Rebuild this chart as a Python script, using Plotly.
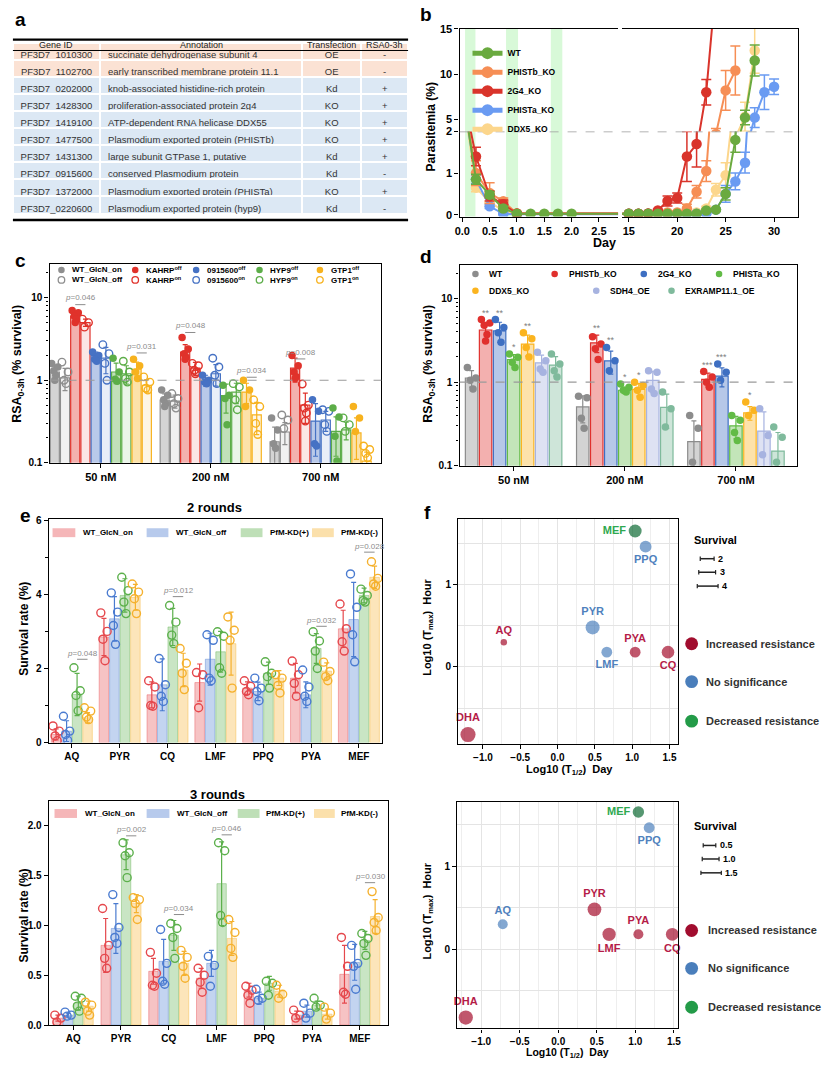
import numpy as np
import plotly.graph_objects as go

W, H = 831, 1066
FONT = "Liberation Sans, Arial, Helvetica, sans-serif"

# ======================= DATA =======================
# (a) table
a_columns = ["Gene ID", "Annotation", "Transfection", "RSA0-3h"]
a_gene_ids = ["PF3D7_1010300", "PF3D7_1102700", "PF3D7_0202000", "PF3D7_1428300", "PF3D7_1419100",
              "PF3D7_1477500", "PF3D7_1431300", "PF3D7_0915600", "PF3D7_1372000", "PF3D7_0220600"]
a_annotation = ["succinate dehydrogenase subunit 4", "early transcribed membrane protein 11.1",
                "knob-associated histidine-rich protein", "proliferation-associated protein 2g4",
                "ATP-dependent RNA helicase DDX55", "Plasmodium exported protein (PHISTb)",
                "large subunit GTPase 1, putative", "conserved Plasmodium protein",
                "Plasmodium exported protein (PHISTa)", "Plasmodium exported protein (hyp9)"]
a_transfection = ["OE", "OE", "Kd", "KO", "KO", "KO", "Kd", "Kd", "KO", "Kd"]
a_rsa = ["-", "-", "+", "+", "+", "+", "+", "-", "+", "-"]

# (b) parasitemia time course
b_series = ["WT", "PHISTb_KO", "2G4_KO", "PHISTa_KO", "DDX5_KO"]
b_colors = ["#6aaa3f", "#f68e55", "#d9342b", "#6a9bf2", "#fcd68c"]
b_days_early = [0, 0.25, 0.5, 0.75, 1.0, 1.25, 1.5, 1.75, 2.0]
b_days_late = [15, 16, 17, 18, 19, 20, 21, 22, 23, 24, 25, 26, 27, 28, 29, 30]
b_early = [
    [3.0, 0.85, 0.48, 0.15, 0.02, 0.02, 0.02, 0.02, 0.02],
    [3.0, 1.0, 0.52, 0.32, 0.03, None, None, None, None],
    [3.0, 1.4, 0.45, 0.25, 0.03, None, None, None, None],
    [3.0, 0.85, 0.2, 0.02, 0.01, None, None, None, None],
    [3.0, 0.65, 0.3, 0.1, 0.02, None, None, None, None],
]
b_early_err = [
    [0, 0.12, 0.08, 0.05, 0, 0, 0, 0, 0],
    [0, 0.3, 0.25, 0.08, 0, None, None, None, None],
    [0, 0.22, 0.12, 0.1, 0, None, None, None, None],
    [0, 0.1, 0.05, 0.02, 0, None, None, None, None],
    [0, 0.1, 0.1, 0.05, 0, None, None, None, None],
]
b_late = [
    [0.02, 0.02, 0.02, 0.02, 0.02, 0.02, 0.02, 0.02, 0.1, 0.12, 0.5, 1.8, 5.2, 11.5, None, None],
    [0.02, 0.02, 0.02, 0.03, 0.05, 0.05, 0.15, 0.55, 1.05, 3.4, 8.2, 10.4, None, None, None, None],
    [0.02, 0.02, 0.03, 0.1, 0.33, 0.4, 1.4, 1.7, 8.0, 20.0, None, None, None, None, None, None],
    [0.02, 0.02, 0.02, 0.02, 0.02, 0.02, 0.02, 0.02, 0.03, 0.12, 0.5, 0.8, 1.25, 5.2, 8.0, 8.6],
    [0.02, 0.02, 0.02, 0.02, 0.02, 0.02, 0.02, 0.05, 0.15, 0.6, 0.95, 3.0, 5.3, 12.6, None, None],
]
b_late_err = [
    [0, 0, 0, 0, 0, 0, 0, 0, 0.03, 0.03, 0.15, 0.3, 0.8, 1.7, None, None],
    [0, 0, 0, 0.02, 0.03, 0.03, 0.1, 0.15, 0.25, 0.6, 2.2, 2.7, None, None, None, None],
    [0, 0, 0, 0.03, 0.12, 0.12, 0.6, 0.55, 1.4, 0, None, None, None, None, None, None],
    [0, 0, 0, 0, 0, 0, 0, 0, 0.02, 0.03, 0.2, 0.2, 0.25, 1.1, 1.9, 0.85],
    [0, 0, 0, 0, 0, 0, 0, 0.02, 0.05, 0.15, 0.3, 0.5, 1.6, 2.5, None, None],
]
b_drug_bands = [[0.05, 0.24], [0.8, 1.02], [1.62, 1.83]]

# (c) RSA of knock-down lines
c_groups = ["50 nM", "200 nM", "700 nM"]
c_series = ["WT_GlcN_on", "WT_GlcN_off", "KAHRP<sup>off</sup>", "KAHRP<sup>on</sup>",
            "0915600<sup>off</sup>", "0915600<sup>on</sup>", "HYP9<sup>off</sup>", "HYP9<sup>on</sup>",
            "GTP1<sup>off</sup>", "GTP1<sup>on</sup>"]
c_filled = [True, False, True, False, True, False, True, False, True, False]
c_colors = ["#8e8e8e", "#8e8e8e", "#e0322b", "#e0322b", "#4672c4", "#4672c4",
            "#5cad48", "#5cad48", "#f7b21e", "#f7b21e"]
c_means = [[1.26, 0.575, 0.18], [1.07, 0.56, 0.236], [6.0, 2.2, 1.4], [5.0, 1.4, 0.5],
           [2.0, 1.0, 0.32], [1.85, 1.2, 0.33], [1.26, 0.65, 0.24], [1.2, 0.72, 0.25],
           [1.36, 0.72, 0.23], [0.87, 0.38, 0.105]]
c_sd = [[0.22, 0.11, 0.09], [0.32, 0.1, 0.07], [0.8, 0.5, 0.45], [0.5, 0.25, 0.2],
        [0.2, 0.15, 0.2], [0.65, 0.35, 0.09], [0.35, 0.25, 0.12], [0.3, 0.2, 0.06],
        [0.3, 0.2, 0.12], [0.15, 0.16, 0.03]]
c_points = [
    [[1.6, 1.45, 1.3, 1.15, 1.0], [0.76, 0.66, 0.58, 0.52, 0.48], [0.35, 0.25, 0.17, 0.15]],
    [[1.66, 1.26, 1.0, 0.91], [0.69, 0.6, 0.52, 0.46], [0.38, 0.33, 0.26]],
    [[7.0, 6.6, 6.0, 5.5, 5.0], [3.3, 2.4, 2.1, 1.9, 1.8], [2.0, 1.5, 1.26, 1.1, 1.05]],
    [[5.5, 5.0, 4.4], [1.6, 1.5, 1.32, 1.26, 1.2], [0.9, 0.5, 0.46, 0.4, 0.32]],
    [[2.2, 2.0, 1.8, 1.7], [1.15, 1.0, 0.95, 0.91], [0.58, 0.42, 0.17, 0.16]],
    [[2.7, 2.1, 1.6, 1.0], [1.85, 1.45, 1.15, 0.91], [0.44, 0.42, 0.29, 0.24]],
    [[1.85, 1.26, 1.03, 0.97], [0.87, 0.66, 0.6, 0.29], [0.46, 0.36, 0.21, 0.105]],
    [[1.7, 1.26, 1.05, 0.95], [0.91, 0.83, 0.58, 0.44], [0.35, 0.29, 0.24]],
    [[1.8, 1.5, 1.26, 1.05], [1.0, 0.76, 0.48], [0.48, 0.35, 0.24]],
    [[1.1, 0.95, 0.8, 0.76], [0.58, 0.48, 0.3, 0.22], [0.16, 0.145, 0.13, 0.115]],
]
c_p_group = [0, 0, 1, 1, 2]
c_p_pair = [2, 8, 2, 8, 2]
c_p_text = ["0.046", "0.031", "0.048", "0.034", "0.008"]
c_p_y = [10.0, 2.6, 4.6, 1.32, 2.2]

# (d) RSA of KO / OE lines
d_groups = ["50 nM", "200 nM", "700 nM"]
d_series = ["WT", "PHISTb_KO", "2G4_KO", "PHISTa_KO", "DDX5_KO", "SDH4_OE", "EXRAMP11.1_OE"]
d_colors = ["#8c8c8c", "#e0302d", "#3e6fc2", "#62bb46", "#fbb41f", "#a7b3e0", "#7fba9c"]
d_means = [[1.12, 0.505, 0.194], [4.2, 2.95, 1.08], [4.1, 1.8, 1.18], [1.86, 0.8, 0.3],
           [2.85, 0.82, 0.43], [1.7, 1.05, 0.26], [1.6, 0.5, 0.15]]
d_sd = [[0.25, 0.18, 0.15], [0.9, 0.7, 0.2], [1.1, 0.55, 0.3], [0.28, 0.07, 0.09],
        [0.8, 0.14, 0.08], [0.4, 0.3, 0.18], [0.42, 0.22, 0.1]]
d_points = [
    [[1.5, 1.12, 1.05, 0.83], [0.68, 0.65, 0.37, 0.28], [0.4, 0.28, 0.11]],
    [[5.6, 5.1, 4.8, 3.7, 3.1], [3.5, 2.85, 2.5, 1.86], [1.34, 1.15, 1.0, 0.87]],
    [[5.6, 4.5, 3.9, 3.0], [2.6, 1.8, 1.37], [1.65, 1.31, 1.05]],
    [[2.17, 1.98, 1.73, 1.5], [0.95, 0.87, 0.8, 0.76], [0.4, 0.35, 0.25, 0.2]],
    [[3.9, 3.3, 2.6, 2.0], [1.0, 0.91, 0.8, 0.66], [0.58, 0.46, 0.4]],
    [[2.27, 1.8, 1.44, 1.31], [1.37, 1.31, 0.83, 0.73], [0.48, 0.23, 0.135]],
    [[2.17, 1.65, 1.37, 1.15], [0.76, 0.48, 0.29], [0.29, 0.22, 0.11]],
]
d_stars = [["", "", ""], ["**", "**", "***"], ["**", "**", "***"], ["*", "*", ""],
           ["**", "*", "*"], ["", "", ""], ["", "", ""]]

# (e) survival rates after 2 / 3 rounds
e_drugs = ["AQ", "PYR", "CQ", "LMF", "PPQ", "PYA", "MEF"]
e_series = ["WT_GlcN_on", "WT_GlcN_off", "PfM-KD(+)", "PfM-KD(-)"]
e_colors = ["#e5484d", "#4a7bd0", "#5cb04c", "#f5b12e"]
e2_means = [[0.22, 2.85, 1.29, 1.62, 1.47, 1.74, 3.07],
            [0.31, 3.34, 1.56, 2.25, 1.38, 1.29, 3.32],
            [1.3, 3.97, 3.12, 2.45, 1.87, 2.54, 3.97],
            [0.67, 3.92, 1.96, 2.67, 1.74, 1.93, 4.46]]
e2_sd = [[0.15, 0.5, 0.35, 0.5, 0.17, 0.4, 0.5],
         [0.28, 0.6, 0.7, 0.7, 0.25, 0.35, 1.0],
         [0.57, 0.45, 0.5, 0.55, 0.3, 0.4, 0.2],
         [0.14, 0.35, 0.45, 0.85, 0.2, 0.22, 0.3]]
e2_points = [
    [[0.45, 0.31, 0.18, 0.05], [3.5, 3.0, 2.79, 2.21], [1.67, 1.5, 1.0, 0.98], [1.89, 1.83, 0.94],
     [1.67, 1.52, 1.38, 1.29], [2.2, 1.83, 1.6, 1.25], [3.74, 3.07, 2.72, 2.47]],
    [[0.71, 0.31, 0.22, 0.06], [4.04, 3.52, 3.16, 2.65], [2.27, 1.56, 1.25, 1.11], [2.91, 2.76, 1.74, 1.67],
     [1.74, 1.47, 1.38, 1.13], [1.96, 1.5, 1.25, 1.11], [4.55, 3.65, 2.91, 2.18]],
    [[2.02, 1.4, 1.27, 0.86], [4.46, 4.1, 3.79, 3.48], [3.7, 3.25, 2.9, 2.67], [2.99, 2.87, 2.02, 1.87],
     [2.18, 1.87, 1.78, 1.47], [2.99, 2.74, 2.47, 2.0], [4.14, 3.97, 3.83, 3.79]],
    [[0.94, 0.85, 0.69, 0.62], [4.28, 4.06, 3.88, 3.48], [2.54, 2.14, 1.87, 1.43], [3.39, 3.03, 2.76, 1.47],
     [1.83, 1.74, 1.54, 1.34], [2.17, 1.92, 1.78, 1.67], [4.88, 4.43, 4.28, 4.22]],
]
e2_p_drug = [0, 2, 5, 6]
e2_p_text = ["0.048", "0.012", "0.032", "0.028"]
e2_p_y = [2.41, 4.1, 3.3, 5.3]

e3_means = [[0.07, 0.8, 0.54, 0.47, 0.35, 0.1, 0.51],
            [0.1, 0.97, 0.64, 0.62, 0.27, 0.14, 0.63],
            [0.22, 1.71, 0.9, 1.42, 0.42, 0.2, 0.85],
            [0.19, 1.22, 0.62, 0.87, 0.34, 0.11, 1.09]]
e3_sd = [[0.03, 0.27, 0.13, 0.1, 0.07, 0.04, 0.29],
         [0.02, 0.25, 0.22, 0.13, 0.06, 0.06, 0.18],
         [0.07, 0.15, 0.15, 0.42, 0.07, 0.04, 0.09],
         [0.05, 0.09, 0.12, 0.17, 0.06, 0.05, 0.17]]
e3_points = [
    [[0.1, 0.07, 0.03], [1.17, 0.8, 0.67, 0.57], [0.73, 0.52, 0.4, 0.39], [0.57, 0.5, 0.43, 0.33],
     [0.39, 0.35, 0.3, 0.22], [0.15, 0.1, 0.07], [0.88, 0.59, 0.33, 0.31]],
    [[0.13, 0.1, 0.09], [1.31, 0.98, 0.88, 0.82], [0.96, 0.62, 0.44, 0.41], [0.69, 0.6, 0.39],
     [0.36, 0.27, 0.25], [0.22, 0.12, 0.07], [0.8, 0.62, 0.59, 0.36]],
    [[0.29, 0.27, 0.19, 0.14], [1.83, 1.73, 1.7, 1.48], [1.02, 0.97, 0.88, 0.67], [1.83, 1.75, 1.1, 1.03],
     [0.44, 0.42, 0.3], [0.27, 0.2, 0.18], [0.92, 0.87, 0.82, 0.7]],
    [[0.23, 0.2, 0.14, 0.1], [1.28, 1.26, 1.22, 1.06], [0.75, 0.68, 0.59, 0.47], [1.06, 0.93, 0.77, 0.68],
     [0.4, 0.31, 0.27], [0.18, 0.12, 0.06], [1.34, 1.08, 1.03, 0.95]],
]
e3_p_drug = [1, 2, 3, 6]
e3_p_text = ["0.002", "0.034", "0.046", "0.030"]
e3_p_y = [1.96, 1.17, 1.97, 1.49]

# (f) pharmacokinetic map
f_drugs = ["MEF", "PPQ", "PYR", "LMF", "AQ", "PYA", "CQ", "DHA"]
f_log_thalf = [1.04, 1.18, 0.47, 0.66, -0.72, 1.04, 1.48, -1.2]
f_log_tmax = [1.65, 1.46, 0.48, 0.18, 0.30, 0.18, 0.18, -0.82]
f_class_2r = ["dec", "ns", "ns", "ns", "inc", "inc", "inc", "inc"]
f_class_3r = ["dec", "ns", "inc", "inc", "ns", "inc", "inc", "inc"]
f_surv_2r = [3.6, 3.3, 3.9, 3.0, 1.8, 3.0, 3.5, 4.2]
f_surv_3r = [1.2, 1.15, 1.45, 1.4, 1.05, 1.05, 1.35, 1.5]
f_surv_scale_2r = ["2", "3", "4"]
f_surv_scale_3r = ["0.5", "1.0", "1.5"]
f_classes = ["inc", "ns", "dec"]
f_class_names = ["Increased resistance", "No significance", "Decreased resistance"]

# ======================= STYLE HELPERS =======================
def X(p):
    return p / W


def Y(p):
    return 1 - p / H


def rgba(hexc, a):
    h = hexc.lstrip('#')
    return "rgba(%d,%d,%d,%s)" % (int(h[0:2], 16), int(h[2:4], 16), int(h[4:6], 16), a)


def axis(**kw):
    d = dict(showline=True, linecolor='black', linewidth=1.4, ticks='outside', ticklen=4,
             tickwidth=1.3, tickcolor='black', showgrid=False, zeroline=False, fixedrange=True,
             tickfont=dict(family=FONT, size=10, color='black', weight='bold'))
    d.update(kw)
    return d


fig = go.Figure()
shapes = []


def ann(xp, yp, text, size=10, color='black', bold=True, xanchor='center', yanchor='middle', angle=0):
    fig.add_annotation(x=X(xp), y=Y(yp), xref='paper', yref='paper', text=text, showarrow=False,
                       font=dict(family=FONT, size=size, color=color, weight='bold' if bold else 'normal'),
                       xanchor=xanchor, yanchor=yanchor, textangle=angle)


def circ(cx, cy, r, fill, line=None, lw=0):
    shapes.append(dict(type='circle', xref='paper', yref='paper', x0=X(cx - r), x1=X(cx + r),
                       y0=Y(cy + r), y1=Y(cy - r), fillcolor=fill,
                       line=dict(color=line or fill, width=lw)))


def hline(x0, x1, yp, color='black', width=1.0, dash='solid'):
    shapes.append(dict(type='line', xref='paper', yref='paper', x0=X(x0), x1=X(x1), y0=Y(yp), y1=Y(yp),
                       line=dict(color=color, width=width, dash=dash)))


# ======================= (a) TABLE =======================
row_fill = ["#fbe2d4" if t == "OE" else "#dce8f4" for t in a_transfection]
a_colw = [88, 204, 60, 47]
fig.add_trace(go.Table(
    domain=dict(x=[X(8), X(407)], y=[Y(217), Y(36)]),
    columnwidth=a_colw,
    header=dict(values=["", "", "", ""], height=1, fill_color='white', line=dict(width=0, color='white'),
                font=dict(size=1, color='white')),
    cells=dict(values=[a_gene_ids, a_annotation, a_transfection, a_rsa],
               fill_color=[row_fill] * 4, line=dict(color="white", width=2),
               align=["center", "left", "center", "center"],
               font=dict(family=FONT, size=9.5, color="#333"), height=17.1)))
# header labels of the table
a_hx = [8 + a_colw[0] / 2, 8 + a_colw[0] + a_colw[1] / 2, 8 + a_colw[0] + a_colw[1] + a_colw[2] / 2,
        8 + sum(a_colw) - a_colw[3] / 2]
for xh, t in zip(a_hx, a_columns):
    ann(xh, 39.5, t, size=9, color='#222', bold=False)
hline(8, 407, 34, width=2.2)
hline(8, 407, 45, width=1.0)
hline(8, 407, 216.5, width=2.6)

# ======================= (b) TIME COURSE =======================
b_x = b_days_early + b_days_late
b_sub = [('x', 'y'), ('x2', 'y2'), ('x3', 'y3'), ('x4', 'y4')]
for i in [4, 3, 1, 2, 0]:
    yv = b_early[i] + b_late[i]
    ev = b_early_err[i] + b_late_err[i]
    for k, (xa, ya) in enumerate(b_sub):
        fig.add_trace(go.Scatter(
            x=b_x, y=yv, mode='lines+markers', name=b_series[i], connectgaps=True,
            line=dict(color=b_colors[i], width=2), marker=dict(color=b_colors[i], size=10.5),
            error_y=dict(type='data', array=ev, color=b_colors[i], thickness=1.5, width=5),
            xaxis=xa, yaxis=ya, showlegend=(k == 0), legendrank=i + 1, legend='legend'))
for x0, x1 in b_drug_bands:
    shapes.append(dict(type='rect', xref='x', yref='paper', x0=x0, x1=x1, y0=Y(213), y1=Y(23),
                       fillcolor='rgba(144,238,144,0.35)', line=dict(width=0), layer='below'))
shapes.append(dict(type='line', xref='paper', yref='y', x0=X(459), x1=X(801), y0=2, y1=2,
                   line=dict(color='#9a9a9a', width=1.3, dash='dash')))
b_lo = [-0.047, 2.0]
b_hi = [3.66, 15]
b_left = [-0.05, 2.85]
b_right = [14.3, 32.5]
bt = dict(family=FONT, size=11, color='black', weight='bold')

# ======================= (c) RSA KD =======================
c_pitch, c_bw = 0.093, 0.083
jit = [-0.3, 0.3, -0.1, 0.1, 0.0]
for i in range(len(c_series)):
    col = c_colors[i]
    xs = [g + (i - 4.5) * c_pitch for g in range(3)]
    fig.add_trace(go.Bar(x=xs, y=c_means[i], width=c_bw, name=c_series[i],
                         marker=dict(color=rgba(col, 0.38 if c_filled[i] else 0.12), line=dict(color=col, width=1.2)),
                         error_y=dict(type='data', array=c_sd[i], color=col, thickness=1.2, width=2.5),
                         xaxis='x5', yaxis='y5', showlegend=False))
    px_, py_ = [], []
    for g in range(3):
        for k, v in enumerate(c_points[i][g]):
            px_.append(xs[g] + jit[k % 5] * c_pitch)
            py_.append(v)
    mk = dict(size=7.5, color=col) if c_filled[i] else dict(size=7.5, color=col, symbol='circle-open', line=dict(width=1.4))
    fig.add_trace(go.Scatter(x=px_, y=py_, mode='markers', marker=mk, xaxis='x5', yaxis='y5',
                             showlegend=False, name=c_series[i]))
c_yr = [-1, 1.408]
for g, pr, t, yv in zip(c_p_group, c_p_pair, c_p_text, c_p_y):
    xc = g + (pr + 0.5 - 4.5) * c_pitch
    fig.add_annotation(x=xc, y=np.log10(yv), xref='x5', yref='y5', text='<i>p</i>=' + t, showarrow=False,
                       font=dict(family=FONT, size=8, color='#8c8c8c'))
    fr = (np.log10(yv) - c_yr[0]) / (c_yr[1] - c_yr[0]) - 7.0 / 201
    shapes.append(dict(type='line', xref='x5', yref='y5 domain', x0=g + (pr - 4.5) * c_pitch,
                       x1=g + (pr + 1 - 4.5) * c_pitch, y0=fr, y1=fr, line=dict(color='#8c8c8c', width=1)))
fr1 = (0 - c_yr[0]) / (c_yr[1] - c_yr[0])
shapes.append(dict(type='line', xref='x5 domain', yref='y5 domain', x0=0, x1=1, y0=fr1, y1=fr1,
                   line=dict(color='#9a9a9a', width=1.2, dash='dash')))
# legend (c)
c_leg_x = [57, 131.5, 193, 257, 318]
for i in range(len(c_series)):
    row = 0 if c_filled[i] else 1
    col_i = i // 2
    cx = c_leg_x[col_i]
    cy = 267 if row == 0 else 277
    if c_filled[i]:
        circ(cx, cy, 3.3, c_colors[i])
    else:
        circ(cx, cy, 3.3, 'white', c_colors[i], 1.3)
    ann(cx + 9, cy, c_series[i], size=8, xanchor='left')

# ======================= (d) RSA KO/OE =======================
d_pitch, d_bw = 0.126, 0.112
for i in range(len(d_series)):
    col = d_colors[i]
    xs = [g + (i - 3) * d_pitch for g in range(3)]
    fig.add_trace(go.Bar(x=xs, y=d_means[i], width=d_bw, name=d_series[i],
                         marker=dict(color=rgba(col, 0.38), line=dict(color=col, width=1.2)),
                         error_y=dict(type='data', array=d_sd[i], color=col, thickness=1.2, width=2.5),
                         xaxis='x6', yaxis='y6', showlegend=False))
    px_, py_ = [], []
    for g in range(3):
        for k, v in enumerate(d_points[i][g]):
            px_.append(xs[g] + jit[k % 5] * d_pitch)
            py_.append(v)
        if d_stars[i][g]:
            top = max(max(d_points[i][g]), d_means[i][g] + d_sd[i][g])
            fig.add_annotation(x=xs[g], y=np.log10(top), xref='x6', yref='y6', text=d_stars[i][g],
                               showarrow=False, yshift=7, font=dict(family=FONT, size=9, color='#808080'))
    fig.add_trace(go.Scatter(x=px_, y=py_, mode='markers', marker=dict(size=7.5, color=col),
                             xaxis='x6', yaxis='y6', showlegend=False, name=d_series[i]))
d_yr = [-1, 1.40]
fr1 = (0 - d_yr[0]) / (d_yr[1] - d_yr[0])
shapes.append(dict(type='line', xref='x6 domain', yref='y6 domain', x0=0, x1=1, y0=fr1, y1=fr1,
                   line=dict(color='#9a9a9a', width=1.2, dash='dash')))
d_leg_pos = [(475, 271), (555, 271), (645, 271), (721, 271), (475, 288), (597, 288), (673, 288)]
for i, (cx, cy) in enumerate(d_leg_pos):
    circ(cx, cy, 3.3, d_colors[i])
    ann(cx + 12, cy, d_series[i], size=8.5, xanchor='left')

# ======================= (e) SURVIVAL BARS =======================
def e_panel(means, sds, pts, pdrug, ptext, py, xa, ya, pitch, bw, legy, legsw, legtx, pxshift):
    for i in range(4):
        col = e_colors[i]
        xs = [g + (i - 1.5) * pitch for g in range(len(e_drugs))]
        fig.add_trace(go.Bar(x=xs, y=means[i], width=bw, name=e_series[i],
                             marker=dict(color=rgba(col, 0.33), line=dict(color=rgba(col, 0.5), width=0.8)),
                             error_y=dict(type='data', array=sds[i], color=col, thickness=1.2, width=2.5),
                             xaxis=xa, yaxis=ya, showlegend=False))
        px_, py_ = [], []
        for g in range(len(e_drugs)):
            for k, v in enumerate(pts[i][g]):
                px_.append(xs[g] + jit[k % 5] * pitch)
                py_.append(v)
        fig.add_trace(go.Scatter(x=px_, y=py_, mode='markers',
                                 marker=dict(size=8, color=col, symbol='circle-open', line=dict(width=1.4)),
                                 xaxis=xa, yaxis=ya, showlegend=False, name=e_series[i]))
    for g, t, yv in zip(pdrug, ptext, py):
        fig.add_annotation(x=g + 1.0 * pitch, y=yv, xref=xa, yref=ya, text='<i>p</i>=' + t, showarrow=False,
                           font=dict(family=FONT, size=8, color='#8c8c8c'))
        shapes.append(dict(type='line', xref=xa, yref=ya, x0=g + 0.5 * pitch, x1=g + 1.5 * pitch,
                           ysizemode='pixel', yanchor=yv, y0=-pxshift, y1=-pxshift,
                           line=dict(color='#8c8c8c', width=1)))
    for i in range(4):
        x0, x1 = legsw[i]
        shapes.append(dict(type='rect', xref='paper', yref='paper', x0=X(x0), x1=X(x1), y0=Y(legy + 4.5),
                           y1=Y(legy - 4.5), fillcolor=rgba(e_colors[i], 0.4), line=dict(width=0)))
        ann(legtx[i], legy, e_series[i], size=8, xanchor='left')


e_panel(e2_means, e2_sd, e2_points, e2_p_drug, e2_p_text, e2_p_y, 'x7', 'y7', 0.219, 0.2, 532.7,
        [(48, 71), (143, 165), (238, 260), (310, 332)], [77, 171, 266, 337], 6)
e_panel(e3_means, e3_sd, e3_points, e3_p_drug, e3_p_text, e3_p_y, 'x8', 'y8', 0.214, 0.196, 816.7,
        [(50, 72.7), (143, 166), (235, 257), (312, 333)], [79, 172, 262, 337], 6)

# ======================= (f) PK MAP =======================
f_mcol = {"inc": "#a50f2d", "ns": "#4f81bd", "dec": "#0e6b35"}
f_tcol = {"inc": "#b51c48", "ns": "#4f81bd", "dec": "#2ea84f"}
f_lcol = {"inc": "#a10d2e", "ns": "#4a7ebb", "dec": "#239b48"}
f_tpos = ["middle left", "bottom center", "top center", "bottom center", "top center", "top center",
          "bottom center", "top center"]
for cls, surv, scale, xa, ya in [(f_class_2r, f_surv_2r, 3.6, 'x9', 'y9'), (f_class_3r, f_surv_3r, 9.5, 'x10', 'y10')]:
    fig.add_trace(go.Scatter(
        x=f_log_thalf, y=f_log_tmax, mode='markers+text', text=f_drugs, textposition=f_tpos,
        marker=dict(size=[s * scale for s in surv], color=[f_mcol[c] for c in cls], line=dict(width=0)),
        textfont=dict(family=FONT, size=11, color=[f_tcol[c] for c in cls], weight='bold'),
        xaxis=xa, yaxis=ya, showlegend=False, cliponaxis=False))


def f_legend(ytitle, ybars, bars, labels, ycirc, xtext):
    ann(717, ytitle, 'Survival', size=11, xanchor='center')
    for (x0, x1), yb, lab in zip(bars, ybars, labels):
        hline(x0, x1, yb, color='#222', width=1.5)
        for xx in (x0, x1):
            shapes.append(dict(type='line', xref='paper', yref='paper', x0=X(xx), x1=X(xx), y0=Y(yb - 2.2),
                               y1=Y(yb + 2.2), line=dict(color='#222', width=1.2)))
        ann(x1 + 2, yb, lab, size=9, xanchor='left')
    for c, nm, yc in zip(f_classes, f_class_names, ycirc):
        circ(693.3, yc, 6.5, f_lcol[c])
        ann(xtext, yc, nm, size=11, color='#333', xanchor='left')


f_legend(540, [559, 572.7, 586.7], [(702, 716), (700.5, 717.5), (699, 720)], f_surv_scale_2r,
         [645, 683.3, 723.3], 706)
f_legend(829, [849, 862.7, 876.7], [(705, 717.7), (704, 721), (702.7, 723.3)], f_surv_scale_3r,
         [935, 973.3, 1012.7], 708)

# ======================= TEXT =======================
for t, xp, yp in [('a', 16, 14), ('b', 425, 9), ('c', 16, 257), ('d', 425, 253), ('e', 21, 515), ('f', 427, 512)]:
    ann(xp, yp, t, size=19)
ann(430, 122, 'Parasitemia (%)', size=12, angle=-90)
ann(605, 240, 'Day', size=12.5)
ann(13, 362, 'RSA<sub>0-3h</sub> (% survival)', size=12.5, angle=-90)
ann(428, 362, 'RSA<sub>0-3h</sub> (% survival)', size=12.5, angle=-90)
ann(212, 507, '2 rounds', size=13)
ann(215, 797, '3 rounds', size=13)
ann(19, 630, 'Survival rate (%)', size=12, angle=-90)
ann(19, 920, 'Survival rate (%)', size=12, angle=-90)
ann(427, 628, 'Log10 (T<sub>max</sub>)  Hour', size=11, angle=-90)
ann(427, 915, 'Log10 (T<sub>max</sub>)  Hour', size=11, angle=-90)
ann(570, 773, 'Log10 (T<sub>1/2</sub>)  Day', size=11)
ann(568, 1058.5, 'Log10 (T<sub>1/2</sub>)  Day', size=10.5)

# ======================= LAYOUT =======================
logminor = dict(tickvals=[0.2, 0.3, 0.4, 0.5, 0.6, 0.7, 0.8, 0.9, 2, 3, 4, 5, 6, 7, 8, 9, 20],
                ticks='outside', ticklen=2, tickwidth=1, tickcolor='black')
fgrid_x = dict(showgrid=True, gridcolor='#e4e4e4', gridwidth=1, dtick=0.5, tick0=0, tickformat='.1f',
               minor=dict(dtick=0.25, tick0=0, showgrid=True, gridcolor='#eeeeee', ticks=''))
fgrid_y = dict(showgrid=True, gridcolor='#e4e4e4', tickvals=[0, 1],
               minor=dict(tickmode='linear', tick0=0, dtick=0.5, showgrid=True, gridcolor='#e4e4e4', ticks=''))
fig.update_layout(
    width=W, height=H, margin=dict(l=0, r=0, t=0, b=0), paper_bgcolor='white', plot_bgcolor='white',
    barmode='overlay', font=dict(family=FONT, color='black'),
    legend=dict(x=X(467), y=Y(33), xanchor='left', yanchor='top', bgcolor='rgba(0,0,0,0)',
                font=dict(family=FONT, size=8.5, color='black', weight='bold'), tracegroupgap=0,
                itemsizing='constant'),
    # panel b
    xaxis=axis(domain=[X(459), X(619)], range=b_left, anchor='y', tickvals=[0, 0.5, 1, 1.5, 2, 2.5],
               tickformat='.1f', tickfont=bt),
    yaxis=axis(domain=[Y(213), Y(127)], range=b_lo, anchor='x', tickvals=[0, 1, 2], tickfont=bt),
    xaxis2=axis(domain=[X(459), X(619)], range=b_left, anchor='y2', side='top', ticks='', showticklabels=False),
    yaxis2=axis(domain=[Y(127), Y(23)], range=b_hi, anchor='x2', tickvals=[5, 10, 15], tickfont=bt),
    xaxis3=axis(domain=[X(623), X(801)], range=b_right, anchor='y3', tickvals=[15, 20, 25, 30], tickfont=bt),
    yaxis3=axis(domain=[Y(213), Y(127)], range=b_lo, anchor='x3', side='right', ticks='', showticklabels=False),
    xaxis4=axis(domain=[X(623), X(801)], range=b_right, anchor='y4', side='top', ticks='', showticklabels=False),
    yaxis4=axis(domain=[Y(127), Y(23)], range=b_hi, anchor='x4', side='right', ticks='', showticklabels=False),
    # panel c
    xaxis5=axis(domain=[X(45), X(380)], range=[-0.466, 2.552], anchor='y5', tickvals=[0, 1, 2],
                ticktext=c_groups, mirror=True, tickfont=dict(family=FONT, size=11, color='black', weight='bold')),
    yaxis5=axis(domain=[Y(462), Y(261)], type='log', range=c_yr, anchor='x5', tickvals=[0.1, 1, 10],
                ticktext=['0.1', '1', '10'], mirror=True, minor=logminor),
    # panel d
    xaxis6=axis(domain=[X(459), X(800)], range=[-0.486, 2.552], anchor='y6', tickvals=[0, 1, 2],
                ticktext=d_groups, mirror=True, tickfont=dict(family=FONT, size=11, color='black', weight='bold')),
    yaxis6=axis(domain=[Y(465), Y(262)], type='log', range=d_yr, anchor='x6', tickvals=[0.1, 1, 10],
                ticktext=['0.1', '1', '10'], mirror=True, minor=logminor),
    # panel e
    xaxis7=axis(domain=[X(44.3), X(381)], range=[-0.48, 6.49], anchor='y7', tickvals=list(range(7)),
                ticktext=e_drugs, mirror=True),
    yaxis7=axis(domain=[Y(745), Y(519.3)], range=[0, 6.02], anchor='x7', tickvals=[0, 2, 4, 6], mirror=True,
                minor=dict(tickvals=[1, 3, 5], ticks='outside', ticklen=2.5, tickwidth=1, tickcolor='black')),
    xaxis8=axis(domain=[X(44.3), X(386.7)], range=[-0.51, 6.59], anchor='y8', tickvals=list(range(7)),
                ticktext=e_drugs, mirror=True),
    yaxis8=axis(domain=[Y(1030.7), Y(804)], range=[0, 2.25], anchor='x8', tickvals=[0, 0.5, 1, 1.5, 2],
                tickformat='.1f', mirror=True),
    # panel f
    xaxis9=axis(domain=[X(457.7), X(680)], range=[-1.33, 1.62], anchor='y9', mirror=True, **fgrid_x),
    yaxis9=axis(domain=[Y(746), Y(519.3)], range=[-0.93, 1.79], anchor='x9', mirror=True, **fgrid_y),
    xaxis10=axis(domain=[X(456.7), X(680)], range=[-1.31, 1.56], anchor='y10', mirror=True, ticklen=3,
                 **fgrid_x),
    yaxis10=axis(domain=[Y(1034), Y(805)], range=[-0.95, 1.77], anchor='x10', mirror=True, **fgrid_y),
    shapes=shapes,
)
fig.write_html("out.html", config=dict(displayModeBar=False),
               post_script="document.body.style.margin='0';document.body.style.padding='0';"
                           "document.documentElement.style.overflow='hidden';")
